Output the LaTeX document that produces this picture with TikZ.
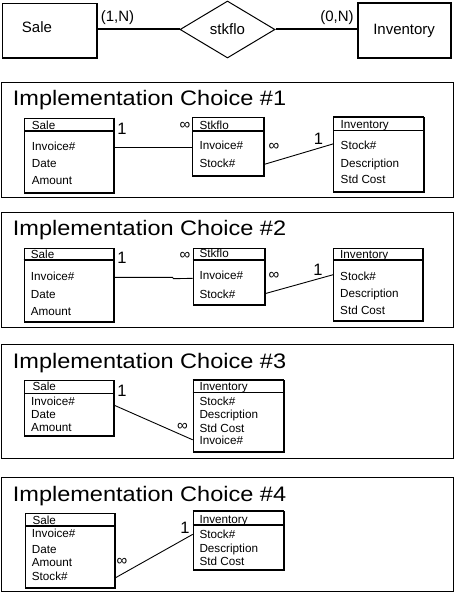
\documentclass[tikz,border=0pt]{standalone}
\usepackage{fontspec}
\setmainfont{Liberation Sans}
\newfontfamily\titlefont[FakeStretch=1.12]{Liberation Sans}
\usetikzlibrary{shapes.geometric}
\newcommand\mktbl[6]{%
  \node[tbl, minimum width=#4pt, minimum height=#5pt] (#1) at (#2,#3) {};
  \draw[shadowedge] (#1.north east) -- (#1.south east) -- (#1.south west);
  \draw[hdr] ([yshift=-#6pt]#1.north west) -- ([yshift=-#6pt]#1.north east);
}
\begin{document}
\begin{tikzpicture}[x=1pt,y=-1pt,
  panel/.style={draw, line width=1pt, anchor=north west, inner sep=0, minimum width=451.3pt},
  ttl/.style={anchor=base west, inner sep=0, font=\titlefont\fontsize{21}{24}\selectfont},
  tbl/.style={draw, line width=1pt, anchor=north west, inner sep=0},
  shadowedge/.style={line width=2pt},
  hdr/.style={line width=1.2pt},
  fld/.style={anchor=base west, inner sep=0, font=\fontsize{11.7}{13}\selectfont},
  card/.style={inner sep=0, font=\fontsize{16.5}{18}\selectfont},
  many/.style={inner sep=0, font=\fontsize{15}{16}\selectfont},
  link/.style={line width=0.9pt},
  ertext/.style={inner sep=0, font=\fontsize{15}{17}\selectfont},
  erline/.style={line width=2pt}]
\useasboundingbox[fill=white] (0,0) rectangle (454,593);

% ---------- ER diagram ----------
\node[draw, line width=1.2pt, minimum width=94.5pt, minimum height=54.5pt, inner sep=0] (saleE) at (49.7,30.8) {};
\node[ertext] (saleT) at (37,27.5) {Sale};
\node[draw, diamond, line width=1pt, minimum width=95pt, minimum height=57pt, inner sep=0, ertext] (rel) at (227.5,29.5) {stkflo};
\node[draw, line width=2pt, minimum width=92.8pt, minimum height=55pt, inner sep=0, ertext] (invE) at (404.1,30.8) {Inventory};
\node[ertext] (c1N) at (117.5,17.5) {(1,N)};
\node[ertext] (c0N) at (337,17.5) {(0,N)};
\draw[erline] (saleE.east |- rel.west) -- (rel.west);
\draw[erline] (rel.east) -- (invE.west |- rel.east);

% ---------- Panel 1 ----------
\node[panel, minimum height=114.7pt] (p1) at (1.2,82) {};
\node[ttl] (t1) at (12.7,106) {Implementation Choice \#1};
\mktbl{s1}{24}{117.7}{89}{74.6}{13.3}
\mktbl{k1}{192.3}{117}{71}{58.3}{14}
\mktbl{i1}{333.3}{117.3}{90}{73.4}{13.4}
\draw[line width=2pt] (i1.north west) -- (i1.north east);
\node[fld] (s1h) at (31.7,129.3) {Sale};
\node[fld] (s1f1) at (31.7,150.7) {Invoice\#};
\node[fld] (s1f2) at (31.7,167.3) {Date};
\node[fld] (s1f3) at (31.7,184.3) {Amount};
\node[fld] (k1h) at (199.3,129.5) {Stkflo};
\node[fld] (k1f1) at (199.3,150) {Invoice\#};
\node[fld] (k1f2) at (199.3,168) {Stock\#};
\node[fld] (i1h) at (340.5,128.5) {Inventory};
\node[fld] (i1f1) at (340.5,150) {Stock\#};
\node[fld] (i1f2) at (340.5,167.3) {Description};
\node[fld] (i1f3) at (340.5,184) {Std Cost};
\node[card] (a1) at (122,129) {1};
\node[many] (b1) at (185,126) {∞};
\node[many] (c1) at (274,146.7) {∞};
\node[card] (d1) at (318.5,138.5) {1};
\draw[link] (s1.east |- k1f1.mid) -- (k1.west |- k1f1.mid);
\draw[link] ([yshift=1pt]k1.east |- k1f2.mid) -- ([yshift=3.5pt]i1.west |- i1f1.mid);

% ---------- Panel 2 ----------
\node[panel, minimum height=115.3pt] (p2) at (1.2,211.7) {};
\node[ttl] (t2) at (12.7,236) {Implementation Choice \#2};
\mktbl{s2}{23.5}{248.3}{89}{72.7}{11.5}
\mktbl{k2}{192.7}{248.3}{71.3}{56}{11.7}
\mktbl{i2}{333.3}{248.3}{88.7}{71.7}{11.7}
\draw[line width=2pt] ([yshift=-11.5pt]s2.north west) -- ([yshift=-11.5pt]s2.north east);
\node[fld] (s2h) at (30.7,258.3) {Sale};
\node[fld] (s2f1) at (30.7,280) {Invoice\#};
\node[fld] (s2f2) at (30.7,298.3) {Date};
\node[fld] (s2f3) at (30.7,315) {Amount};
\node[fld] (k2h) at (199.3,258) {Stkflo};
\node[fld] (k2f1) at (199.3,279) {Invoice\#};
\node[fld] (k2f2) at (199.3,298.3) {Stock\#};
\node[fld] (i2h) at (340,258.3) {Inventory};
\node[fld] (i2f1) at (340,280) {Stock\#};
\node[fld] (i2f2) at (340,297.3) {Description};
\node[fld] (i2f3) at (340,314.3) {Std Cost};
\node[card] (a2) at (122,258) {1};
\node[many] (b2) at (185,255.7) {∞};
\node[many] (c2) at (274,275.7) {∞};
\node[card] (d2) at (318,270) {1};
\draw[link] (s2.east |- s2f1.mid) -- ++(59,0) -- ++(1,1.3) -- ([yshift=-2pt]k2.west |- k2f1.mid);
\draw[link] ([yshift=2pt]k2.east |- k2f2.mid) -- ([yshift=2.7pt]i2.west |- i2f1.mid);

% ---------- Panel 3 ----------
\node[panel, minimum height=114.3pt] (p3) at (1.2,344) {};
\node[ttl] (t3) at (12.7,368.5) {Implementation Choice \#3};
\mktbl{s3}{24.3}{380}{88.4}{55}{13.3}
\mktbl{i3}{192.7}{380}{90}{71}{12.7}
\draw[line width=2pt] (i3.north west) -- (i3.north east);
\node[fld] (s3h) at (32.3,390.5) {Sale};
\node[fld] (s3f1) at (31,405) {Invoice\#};
\node[fld] (s3f2) at (31,418) {Date};
\node[fld] (s3f3) at (31,431) {Amount};
\node[fld] (i3h) at (199.3,390) {Inventory};
\node[fld] (i3f1) at (199.3,405) {Stock\#};
\node[fld] (i3f2) at (199.3,418) {Description};
\node[fld] (i3f3) at (199.3,432.5) {Std Cost};
\node[fld] (i3f4) at (199.3,444) {Invoice\#};
\node[card] (a3) at (122,390.5) {1};
\node[many] (b3) at (182.5,427) {∞};
\draw[link] (s3.east |- s3f1.base) -- (i3.west |- i3f4.center);

% ---------- Panel 4 ----------
\node[panel, minimum height=113.7pt] (p4) at (1.2,477.3) {};
\node[ttl] (t4) at (12.7,501.7) {Implementation Choice \#4};
\mktbl{s4}{25}{513.3}{89.3}{74}{12.7}
\mktbl{i4}{192.7}{511}{90}{58}{14}
\draw[line width=2pt] (i4.north west) -- (i4.north east);
\node[fld] (s4h) at (32.3,524.5) {Sale};
\node[fld] (s4f1) at (31.7,537.7) {Invoice\#};
\node[fld] (s4f2) at (31.7,553.3) {Date};
\node[fld] (s4f3) at (31.7,566.7) {Amount};
\node[fld] (s4f4) at (31.7,580.5) {Stock\#};
\node[fld] (i4h) at (199.3,523.3) {Inventory};
\node[fld] (i4f1) at (199.3,538.3) {Stock\#};
\node[fld] (i4f2) at (199.3,552.7) {Description};
\node[fld] (i4f3) at (199.3,565) {Std Cost};
\node[card] (a4) at (185,527.5) {1};
\node[many] (b4) at (122,561.7) {∞};
\draw[link] (s4.east |- s4f4.mid) -- ([yshift=1.3pt]i4.west |- i4f1.mid);
\end{tikzpicture}
\end{document}
